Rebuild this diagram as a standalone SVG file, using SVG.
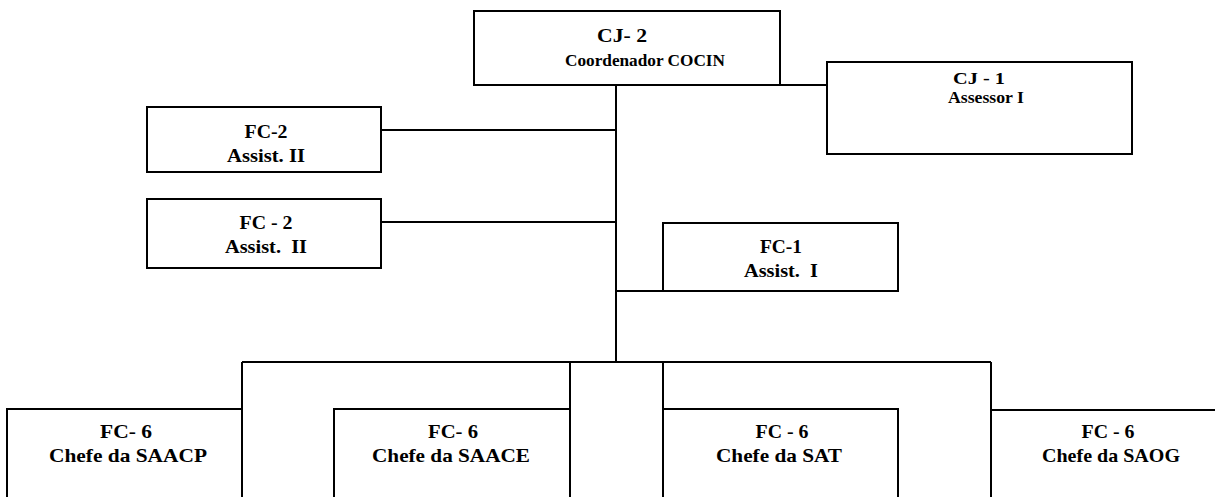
<svg xmlns="http://www.w3.org/2000/svg" width="1215" height="497" viewBox="0 0 1215 497">
<style>
.box{fill:#fff;stroke:#000;stroke-width:2}
.ln{fill:none;stroke:#000;stroke-width:2}
text{font-family:'Liberation Serif',serif;font-weight:700;font-size:19px;fill:#000;text-anchor:middle}
.sm{font-size:17px}
</style>
<rect width="1215" height="497" fill="#fff"/>
<g id="connectors">
<path class="ln" d="M616 85V362"/>
<path class="ln" d="M780 85H827"/>
<path class="ln" d="M381 130H616"/>
<path class="ln" d="M381 222H616"/>
<path class="ln" d="M616 291H663"/>
<path class="ln" d="M242 362H991"/>
<path class="ln" d="M242 362V409"/>
<path class="ln" d="M570 362V409"/>
<path class="ln" d="M663 362V409"/>
<path class="ln" d="M991 362V410"/>
</g>
<g id="cj2">
<rect class="box" x="474" y="11" width="306" height="74"/>
<text x="622" y="42" textLength="50" lengthAdjust="spacingAndGlyphs">CJ- 2</text>
<text x="645" y="66" class="sm" textLength="160" lengthAdjust="spacingAndGlyphs">Coordenador COCIN</text>
</g>
<g id="cj1">
<rect class="box" x="827" y="62" width="305" height="92"/>
<text x="979" y="84" class="sm" textLength="52" lengthAdjust="spacingAndGlyphs">CJ - 1</text>
<text x="986" y="103" class="sm" textLength="76" lengthAdjust="spacingAndGlyphs">Assessor I</text>
</g>
<g id="fc2a">
<rect class="box" x="147" y="107" width="234" height="65"/>
<text x="266" y="138" textLength="43" lengthAdjust="spacingAndGlyphs">FC-2</text>
<text x="266" y="162" textLength="78" lengthAdjust="spacingAndGlyphs">Assist. II</text>
</g>
<g id="fc2b">
<rect class="box" x="147" y="199" width="234" height="69"/>
<text x="266" y="229" textLength="53" lengthAdjust="spacingAndGlyphs">FC - 2</text>
<text x="266" y="253" xml:space="preserve" textLength="82" lengthAdjust="spacingAndGlyphs">Assist.  II</text>
</g>
<g id="fc1">
<rect class="box" x="663" y="223" width="235" height="68"/>
<text x="781" y="253" textLength="42" lengthAdjust="spacingAndGlyphs">FC-1</text>
<text x="781" y="277" xml:space="preserve" textLength="74" lengthAdjust="spacingAndGlyphs">Assist.  I</text>
</g>
<g id="saacp">
<rect class="box" x="7" y="409" width="235" height="110"/>
<text x="126" y="438" textLength="52" lengthAdjust="spacingAndGlyphs">FC- 6</text>
<text x="128" y="462" textLength="158" lengthAdjust="spacingAndGlyphs">Chefe da SAACP</text>
</g>
<g id="saace">
<rect class="box" x="334" y="409" width="236" height="110"/>
<text x="453" y="438" textLength="50" lengthAdjust="spacingAndGlyphs">FC- 6</text>
<text x="451" y="462" textLength="158" lengthAdjust="spacingAndGlyphs">Chefe da SAACE</text>
</g>
<g id="sat">
<rect class="box" x="663" y="409" width="235" height="110"/>
<text x="782" y="438" textLength="53" lengthAdjust="spacingAndGlyphs">FC - 6</text>
<text x="779" y="462" textLength="126" lengthAdjust="spacingAndGlyphs">Chefe da SAT</text>
</g>
<g id="saog">
<rect class="box" x="991" y="410" width="240" height="110"/>
<text x="1108" y="438" textLength="53" lengthAdjust="spacingAndGlyphs">FC - 6</text>
<text x="1111" y="462" textLength="138" lengthAdjust="spacingAndGlyphs">Chefe da SAOG</text>
</g>
</svg>
